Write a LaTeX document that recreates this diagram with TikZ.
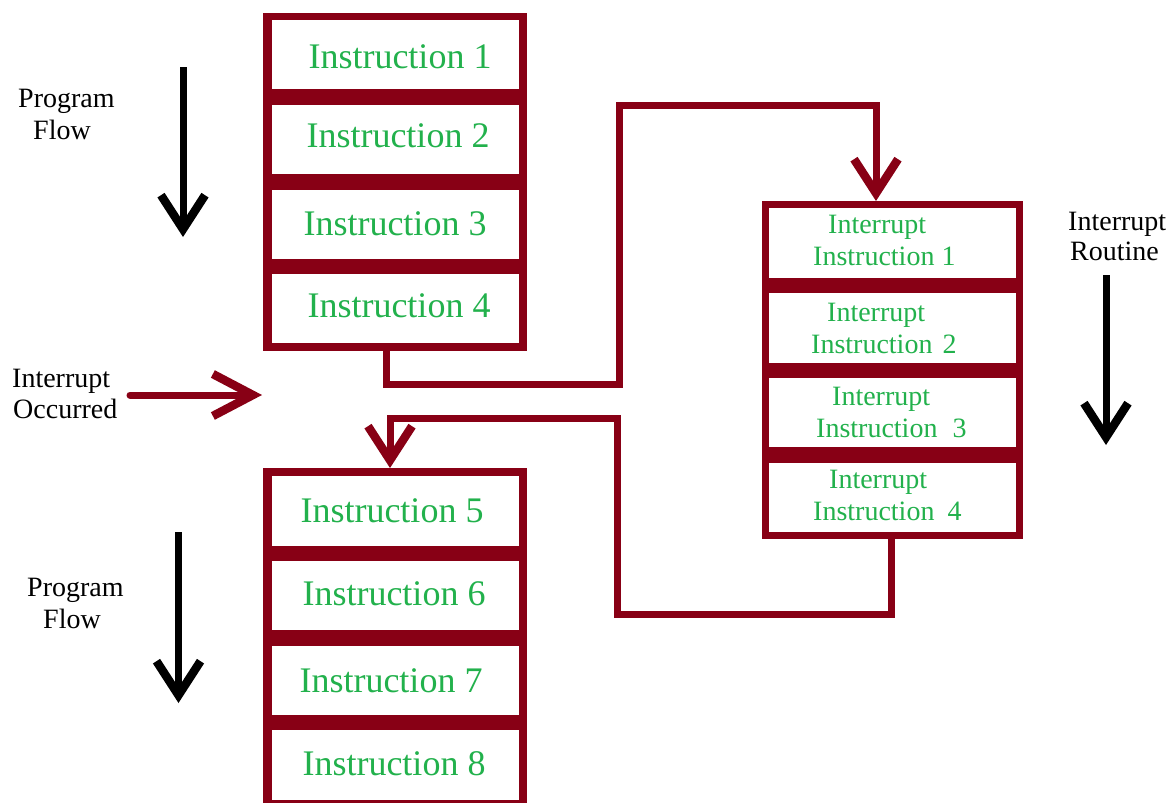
\documentclass[tikz,border=0pt]{standalone}
\usepackage{fontspec}
\setmainfont{Liberation Serif}
\usetikzlibrary{arrows.meta}
\definecolor{dred}{RGB}{136,0,21}
\definecolor{igreen}{RGB}{34,177,76}
\begin{document}
\begin{tikzpicture}[x=1pt,y=-1pt,
  stackbg/.style={fill=dred,draw=none,inner sep=0pt,outer sep=0pt},
  cell/.style={fill=white,draw=none,inner sep=0pt,outer sep=0pt,minimum width=247pt},
  big/.style={font=\fontsize{36}{40}\selectfont,text=igreen,inner sep=0pt,anchor=base},
  small/.style={font=\fontsize{28}{32}\selectfont,text=igreen,inner sep=0pt,anchor=base west},
  lbl/.style={font=\fontsize{28}{32}\selectfont,text=black,inner sep=0pt,anchor=base west},
  conn/.style={draw=dred,line width=7pt,line join=miter,
    -{Straight Barb[length=34pt,width=44pt,line width=8.5pt,sharp]}},
  occarr/.style={draw=dred,line width=7pt,line cap=round,
    -{Straight Barb[length=40pt,width=42pt,line width=8.5pt,sharp]}},
  flowarr/.style={draw=black,line width=7pt,
    -{Straight Barb[length=34pt,width=44pt,line width=8.5pt,sharp]}}
]
\useasboundingbox[fill=white] (0,0) rectangle (1173,803);

% ---- top program stack ----
\node[stackbg,minimum width=264pt,minimum height=338pt] (s1) at (395,182) {};
\node[cell,minimum height=69pt] (c1) at (395.5,54.5) {};
\node[cell,minimum height=69pt] (c2) at (395.5,139.5) {};
\node[cell,minimum height=69pt] (c3) at (395.5,224.5) {};
\node[cell,minimum height=69pt] (c4) at (395.5,308.5) {};
\node[big] (t1) at (400,68) {Instruction 1};
\node[big] (t2) at (398,147) {Instruction 2};
\node[big] (t3) at (395,235) {Instruction 3};
\node[big] (t4) at (399,317) {Instruction 4};

% ---- bottom program stack ----
\node[stackbg,minimum width=264pt,minimum height=342pt] (s3) at (395,639) {};
\node[cell,minimum height=70pt] (c5) at (395.5,511) {};
\node[cell,minimum height=69pt] (c6) at (395.5,595.5) {};
\node[cell,minimum height=69pt] (c7) at (395.5,680.5) {};
\node[cell,minimum height=70pt] (c8) at (395.5,765) {};
\node[big] (t5) at (392,522) {Instruction 5};
\node[big] (t6) at (394,605) {Instruction 6};
\node[big] (t7) at (391,692) {Instruction 7};
\node[big] (t8) at (394,775) {Instruction 8};

% ---- interrupt routine stack ----
\node[stackbg,minimum width=261pt,minimum height=338pt] (s2) at (892.5,370) {};
\node[cell,minimum height=70pt] (r1) at (892.5,243) {};
\node[cell,minimum height=70pt] (r2) at (892.5,328) {};
\node[cell,minimum height=69pt] (r3) at (892.5,412.5) {};
\node[cell,minimum height=69pt] (r4) at (892.5,497.5) {};
\node[small] (ra1) at (828,233) {Interrupt};
\node[small] (rb1) at (813,265) {Instruction 1};
\node[small] (ra2) at (827,321) {Interrupt};
\node[small] (rb2) at (811,353) {Instruction\hspace{3pt} 2};
\node[small] (ra3) at (832,405) {Interrupt};
\node[small] (rb3) at (816,437) {Instruction\hspace{8pt} 3};
\node[small] (ra4) at (829,488) {Interrupt};
\node[small] (rb4) at (813,520) {Instruction\hspace{6pt} 4};

% ---- connectors ----
\draw[conn] (386,0 |- s1.south) -- (386,384) -- (619,384) -- (619,105)
  -- (876,105) -- (876,0 |- s2.north);
\draw[conn] (891,0 |- s2.south) -- (891,614) -- (617,614) -- (617,418)
  -- (390,418) -- (390,0 |- s3.north);

% ---- side labels ----
\node[lbl] (pf1a) at (18,107) {Program};
\node[lbl] (pf1b) at (33,139) {Flow};
\node[lbl] (io1) at (12,387) {Interrupt};
\node[lbl] (io2) at (13,418) {Occurred};
\node[lbl] (pf2a) at (27,596) {Program};
\node[lbl] (pf2b) at (43,628) {Flow};
\node[lbl] (ir1) at (1068,230) {Interrupt};
\node[lbl] (ir2) at (1070,260) {Routine};

% ---- flow arrows ----
\coordinate (f1s) at (183,67);  \coordinate (f1e) at (183,237);
\coordinate (f2s) at (178.5,532); \coordinate (f2e) at (178.5,703);
\coordinate (f3s) at (1106,275); \coordinate (f3e) at (1106,445);
\coordinate (ios) at (130,395); \coordinate (ioe) at (262,395);
\draw[flowarr] (f1s) -- (f1e);
\draw[flowarr] (f2s) -- (f2e);
\draw[flowarr] (f3s) -- (f3e);
\draw[occarr] (ios) -- (ioe);
\end{tikzpicture}
\end{document}
